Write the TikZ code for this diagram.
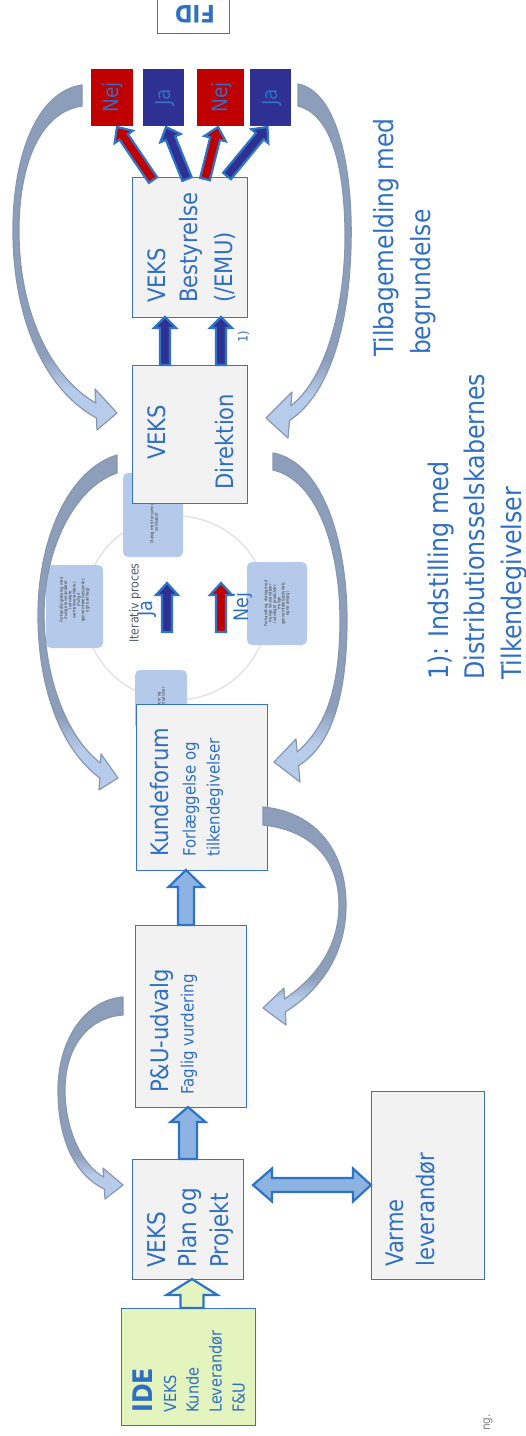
\documentclass[tikz,border=0pt]{standalone}
\usepackage{fontspec}
\setmainfont{DejaVu Sans}[FakeStretch=0.88]
\usetikzlibrary{calc}
\definecolor{boxline}{HTML}{3874C6}
\definecolor{txtblue}{HTML}{2F6FC3}
\definecolor{boxfill}{HTML}{F2F2F2}
\definecolor{idefill}{HTML}{E3F4BE}
\definecolor{cred}{HTML}{C00000}
\definecolor{cnavy}{HTML}{2E3192}
\definecolor{arrline}{HTML}{2E74C6}
\definecolor{arrfill}{HTML}{8DB3E2}
\definecolor{cvgray}{HTML}{8C9EBA}
\definecolor{cvlight}{HTML}{B7CBEA}
\definecolor{cvedge}{HTML}{8597B1}
\definecolor{smallfill}{HTML}{B5CAEA}
\definecolor{circgray}{HTML}{E3E3E3}
\definecolor{itgray}{HTML}{4F596B}
\pgfdeclareverticalshading{cvshade}{100bp}{color(0bp)=(cvlight); color(25bp)=(cvlight); color(31bp)=(cvlight); color(36bp)=(cvgray); color(100bp)=(cvgray)}
\newcommand{\fsz}[1]{\fontsize{#1pt}{#1pt}\selectfont}
\newcommand{\blockarrow}[6]{%
 \path[#6] let \p1=(#1), \p2=(#2), \n1={atan2(\y2-\y1,\x2-\x1)}, \n2={veclen(\x2-\x1,\y2-\y1)} in
 ($(\p1)+(\n1+90:#3)$) -- ($(\p1)+(\n1:\n2-#5)+(\n1+90:#3)$) -- ($(\p1)+(\n1:\n2-#5)+(\n1+90:#4)$) -- (\p2) -- ($(\p1)+(\n1:\n2-#5)+(\n1-90:#4)$) -- ($(\p1)+(\n1:\n2-#5)+(\n1-90:#3)$) -- ($(\p1)+(\n1-90:#3)$) -- cycle;}
\tikzset{
 box/.style={draw=boxline, fill=boxfill, line width=1pt, inner sep=0pt, outer sep=0pt},
 smallbox/.style={fill=smallfill, rounded corners=5pt, inner sep=0pt},
 smalltxt/.style={rotate=90, align=center, inner sep=0pt, font=\fsz{4.3}, text=black!75},
 lbl/.style={rotate=90, anchor=base west, inner sep=0pt, text=txtblue, font=\fsz{#1}},
 blk/.style={draw=arrline, line width=2.2pt, line join=miter, fill=#1},
 curvarr/.style={shade, shading=cvshade, draw=cvedge, line width=1.2pt, line join=round},
}
\begin{document}
\begin{tikzpicture}[x=1pt,y=-1pt]
\useasboundingbox (0,0) rectangle (526,1436);
\clip (0,0) rectangle (526,1436);
% ---------- iterative process background
\draw[circgray, line width=1.5pt] (176,608) circle (92);
\node[smallbox, minimum width=60pt, minimum height=84pt] (sbtop) at (153,515) {};
\node[smalltxt] (sbtopt) at (154,522) {Dialog med forsynings-\\selskaber};
\node[smallbox, minimum width=57pt, minimum height=83pt] (sbleft) at (74.5,606.5) {};
\node[smalltxt] (sblefttx) at (74.5,600) {Forhandlingsdialog med\\mulige leverandører\\(udvalgte\\varmeleverandører,\\mulige\\gennemførelsescenter,\\egne anlæg)};
\node[smallbox, minimum width=60pt, minimum height=83pt] (sbright) at (277,603.5) {};
\node[smalltxt] (sbrighttx) at (277,603.5) {Forhandling, dialog med\\mulige leverandører\\(udvalgte produkter,\\mulige\\gennemførelsesforløb,\\egne anlæg)};
\node[smallbox, minimum width=52pt, minimum height=60pt] (sbbot) at (161,700) {};
\node[smalltxt] (sbbottx) at (161,700) {Ideer og\\informationer};
\node[rotate=90, anchor=base west, inner sep=0pt, font=\fsz{12.5}, text=itgray] (iter) at (138.5,643) {Iterativ proces};
% ---------- main boxes
\node[draw=boxline, fill=white, line width=1pt, minimum width=72pt, minimum height=40pt, inner sep=0pt] (fid) at (193,13) {};
\node[box, fill=cred, draw=none, minimum width=42pt, minimum height=57pt] (nej1) at (112,97.5) {};
\node[box, fill=cnavy, draw=none, minimum width=41pt, minimum height=57pt] (ja1) at (163.5,97.5) {};
\node[box, fill=cred, draw=none, minimum width=47pt, minimum height=57pt] (nej2) at (220.5,97.5) {};
\node[box, fill=cnavy, draw=none, minimum width=41pt, minimum height=57pt] (ja2) at (270.5,97.5) {};
\node[box, minimum width=115pt, minimum height=140pt] (best) at (189.5,247) {};
\node[box, minimum width=115pt, minimum height=138pt] (dir) at (189.5,434) {};
\node[box, minimum width=131pt, minimum height=166pt] (kund) at (201.5,787) {};
\node[box, minimum width=111pt, minimum height=182pt] (pu) at (190.5,1016) {};
\node[box, minimum width=111pt, minimum height=120pt] (plan) at (187.5,1219) {};
\node[box, fill=idefill, minimum width=134pt, minimum height=117pt] (ide) at (188,1366.5) {};
\node[box, minimum width=113pt, minimum height=188pt] (varme) at (427.5,1185) {};
% ---------- curved feedback arrows
\path[curvarr] (82,85) .. controls (35,92) and (12,160) .. (13,235) .. controls (14,320) and (45,390) .. (96.4,418) -- (97,430) -- (117,413) -- (95,389) -- (95.7,403) .. controls (52,378) and (20,315) .. (19,235) .. controls (18,165) and (40,112) .. (82,106) -- cycle;
\path[curvarr] (298,84) .. controls (338,92) and (353,170) .. (351,245) .. controls (349,330) and (328,395) .. (289.5,420.5) -- (288,438) -- (266,418) -- (292,392) -- (290.8,405.8) .. controls (322,382) and (343,320) .. (345,245) .. controls (346,172) and (333,115) .. (298,106) -- cycle;
\path[curvarr] (117,455) .. controls (68,470) and (38,540) .. (38,615) .. controls (38,690) and (62,750) .. (99.8,778) -- (99,790) -- (118,778) -- (101,754) -- (100.5,763) .. controls (70,740) and (45,685) .. (44,615) .. controls (44,548) and (75,487) .. (117,473) -- cycle;
\path[curvarr] (273,453) .. controls (322,462) and (347,540) .. (347,620) .. controls (347,695) and (332,745) .. (298.5,765.7) -- (300,782) -- (274,762) -- (296,739) -- (297.2,751.9) .. controls (325,728) and (340,690) .. (340,620) .. controls (340,548) and (317,480) .. (273,470) -- cycle;
\path[curvarr] (263,807) .. controls (315,812) and (346,850) .. (346,905) .. controls (346,955) and (320,990) .. (285.3,1012) -- (286,1025) -- (263,1008) -- (284,988) -- (284.6,999) .. controls (315,978) and (339,948) .. (339,905) .. controls (339,858) and (310,830) .. (263,825) -- cycle;
\path[curvarr] (123,997) .. controls (85,1000) and (58,1040) .. (58,1090) .. controls (58,1140) and (75,1175) .. (104.4,1189) -- (105,1199) -- (123,1185) -- (103,1168) -- (103.6,1177) .. controls (82,1165) and (65,1130) .. (65,1090) .. controls (65,1045) and (90,1017) .. (123,1015) -- cycle;
% ---------- block arrows
\blockarrow{$(best.north west)+(21,3)$}{$(nej1.south)+(5,1)$}{5pt}{11pt}{12pt}{blk=cred}
\blockarrow{$(best.north west)+(55,2)$}{$(ja1.south)+(2.5,1)$}{5pt}{11pt}{12pt}{blk=cnavy}
\blockarrow{$(best.north west)+(73,2)$}{$(nej2.south)+(-2.5,1)$}{5pt}{11pt}{12pt}{blk=cred}
\blockarrow{$(best.north west)+(95,-1)$}{$(ja2.south)+(-3,1)$}{5pt}{11pt}{12pt}{blk=cnavy}
\blockarrow{$(dir.north west)+(33,0)$}{$(best.south west)+(33,0)$}{5pt}{11pt}{11pt}{blk=cnavy}
\blockarrow{$(dir.north west)+(89,0)$}{$(best.south west)+(89,0)$}{5pt}{11pt}{11pt}{blk=cnavy}
\coordinate (jaA) at (167,632); \coordinate (jaB) at (167,583);
\coordinate (nejA) at (221,632); \coordinate (nejB) at (221,583);
\blockarrow{jaA}{jaB}{5pt}{11pt}{12pt}{blk=cnavy}
\blockarrow{nejA}{nejB}{5pt}{11pt}{12pt}{blk=cred}
\blockarrow{$(pu.north)+(-4.5,0)$}{$(kund.south)+(-15.5,0)$}{8pt}{17.5pt}{17pt}{blk=arrfill}
\blockarrow{$(plan.north)+(0.5,0)$}{$(pu.south)+(-2.5,0)$}{9pt}{17.5pt}{15pt}{blk=arrfill}
\blockarrow{$(ide.north)+(4,0)$}{$(plan.south)+(4.5,0)$}{11.5pt}{25.5pt}{16pt}{blk=idefill}
\path[blk=arrfill] let \p1=($(plan.east|-varme.west)+(10,0)$), \p2=(varme.west) in
 (\p1) -- ($(\p1)+(19pt,16.5pt)$) -- ($(\p1)+(19pt,7pt)$) -- ($(\p2)+(-18pt,7pt)$) -- ($(\p2)+(-18pt,16.5pt)$) -- (\p2)
 -- ($(\p2)+(-18pt,-16.5pt)$) -- ($(\p2)+(-18pt,-7pt)$) -- ($(\p1)+(19pt,-7pt)$) -- ($(\p1)+(19pt,-16.5pt)$) -- cycle;
% ---------- texts
\node[rotate=180, inner sep=0pt, font=\bfseries\fsz{24}, text=txtblue] (fidt) at (195,14) {FID};
\node[rotate=90, inner sep=0pt, font=\fsz{21}, text=txtblue] (nej1t) at (113,97.5) {Nej};
\node[rotate=90, inner sep=0pt, font=\fsz{21}, text=txtblue] (ja1t) at (165,97.5) {Ja};
\node[rotate=90, inner sep=0pt, font=\fsz{21}, text=txtblue] (nej2t) at (221.5,97.5) {Nej};
\node[rotate=90, inner sep=0pt, font=\fsz{21}, text=txtblue] (ja2t) at (272,97.5) {Ja};
\node[lbl=24] (bt1) at (165.6,303) {VEKS};
\node[lbl=24] (bt2) at (197.6,303) {Bestyrelse};
\node[lbl=24] (bt3) at (232.6,303) {(/EMU)};
\node[lbl=13] (one) at (247.7,343) {1)};
\node[lbl=24] (dt1) at (165.6,460) {VEKS};
\node[lbl=24] (dt2) at (233.6,490) {Direktion};
\node[lbl=20] (jat) at (152,617) {Ja};
\node[lbl=20] (nejt) at (248,622) {Nej};
\node[lbl=24] (kt1) at (168.6,857) {Kundeforum};
\node[lbl=17] (kt2) at (195.6,857) {Forlæggelse og};
\node[lbl=17] (kt3) at (219.6,857) {tilkendegivelser};
\node[lbl=24] (pt1) at (168.1,1093) {P\&U-udvalg};
\node[lbl=17] (pt2) at (193.6,1095) {Faglig vurdering};
\node[lbl=24.5] (lt1) at (165.8,1268) {VEKS};
\node[lbl=24.5] (lt2) at (196.8,1268) {Plan og};
\node[lbl=24.5] (lt3) at (228.8,1268) {Projekt};
\node[lbl=27, font=\bfseries\fsz{27}] (it1) at (152.7,1413) {IDE};
\node[lbl=16.5] (it2) at (176,1413) {VEKS};
\node[lbl=16.5] (it3) at (198.5,1413) {Kunde};
\node[lbl=16.5] (it4) at (221.5,1413) {Leverandør};
\node[lbl=16.5] (it5) at (244.5,1413) {F\&U};
\node[lbl=24] (vt1) at (403.6,1267) {Varme};
\node[lbl=24] (vt2) at (434.6,1267) {leverandør};
\node[lbl=26.5] (tb1) at (393.5,357) {Tilbagemelding med};
\node[lbl=26.5] (tb2) at (430.5,355) {begrundelse};
\node[lbl=27] (nt1) at (448.7,680) {1): Indstilling med};
\node[lbl=27] (nt2) at (484.7,680) {Distributionsselskabernes};
\node[lbl=27] (nt3) at (521,680) {Tilkendegivelser};
\node[rotate=90, anchor=base east, inner sep=0pt, font=\fsz{12}, text=gray] (ng) at (490,1414) {ng.};
\end{tikzpicture}
\end{document}
